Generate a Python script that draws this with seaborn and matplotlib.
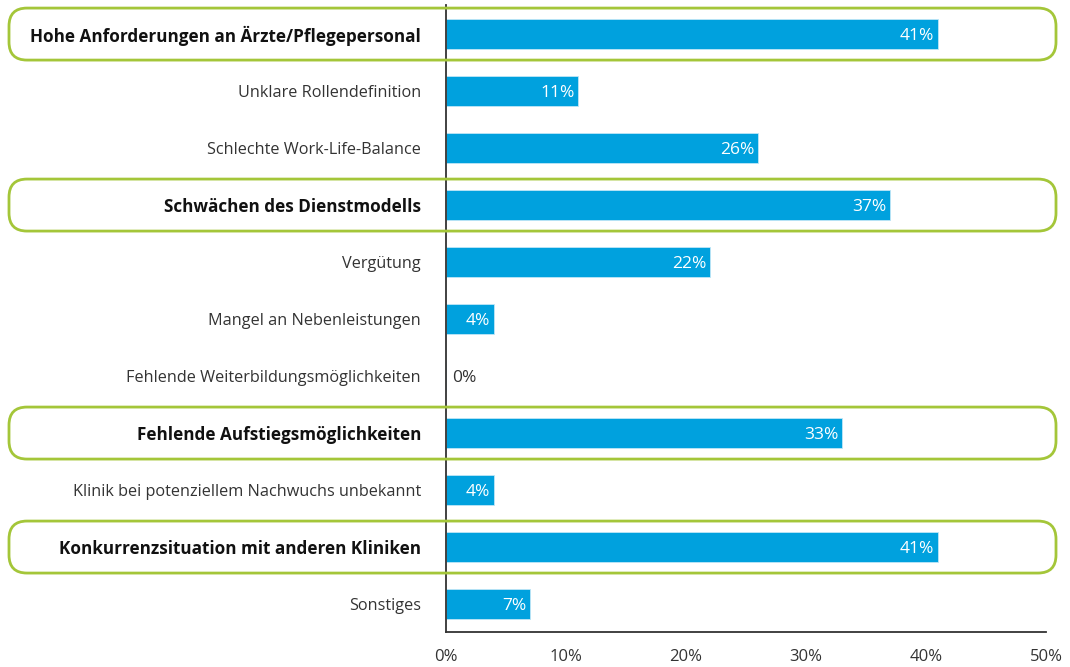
import matplotlib
matplotlib.use("Agg")
import matplotlib.pyplot as plt
import matplotlib.ticker as mticker
from matplotlib.patches import FancyBboxPatch
from matplotlib.transforms import IdentityTransform
import seaborn as sns
import pandas as pd

CATEGORIES = [
    "Hohe Anforderungen an Ärzte/Pflegepersonal",
    "Unklare Rollendefinition",
    "Schlechte Work-Life-Balance",
    "Schwächen des Dienstmodells",
    "Vergütung",
    "Mangel an Nebenleistungen",
    "Fehlende Weiterbildungsmöglichkeiten",
    "Fehlende Aufstiegsmöglichkeiten",
    "Klinik bei potenziellem Nachwuchs unbekannt",
    "Konkurrenzsituation mit anderen Kliniken",
    "Sonstiges",
]
VALUES = [41, 11, 26, 37, 22, 4, 0, 33, 4, 41, 7]
HIGHLIGHT = [True, False, False, True, False, False, False, True, False, True, False]
X_TICKS = [0, 10, 20, 30, 40, 50]

BAR_COLOR = "#00a1de"
BOX_COLOR = "#a4c639"
FONT = ["Open Sans", "DejaVu Sans"]

sns.set_style("white")
plt.rcParams["font.family"] = FONT

df = pd.DataFrame({"label": CATEGORIES, "value": VALUES})

fig = plt.figure(figsize=(10.7, 6.67), dpi=100)
ax = fig.add_axes([0.4168, 0.0525, 0.5608, 0.94])

sns.barplot(data=df, x="value", y="label", color=BAR_COLOR, saturation=1,
            width=0.53, ax=ax, edgecolor="#bfe6f7", linewidth=0.6)

ax.set_xlim(0, 50)
ax.set_ylim(10.49, -0.51)
ax.set_xticks(X_TICKS)
ax.xaxis.set_major_formatter(mticker.FuncFormatter(lambda v, _: f"{v:.0f}%"))
ax.set_xlabel("")
ax.set_ylabel("")
ax.tick_params(axis="x", length=0, pad=12, labelsize=12, labelcolor="#333333")
ax.tick_params(axis="y", length=0, pad=18, labelsize=11.7)

for spine in ["top", "right"]:
    ax.spines[spine].set_visible(False)
ax.spines["left"].set_color("#333333")
ax.spines["bottom"].set_color("#333333")
ax.spines["left"].set_linewidth(1.3)
ax.spines["bottom"].set_linewidth(1.3)

for tick, hl in zip(ax.get_yticklabels(), HIGHLIGHT):
    if hl:
        tick.set_fontweight("bold")
        tick.set_fontsize(12.3)
        tick.set_color("#111111")
    else:
        tick.set_color("#333333")

# value labels
for i, v in enumerate(VALUES):
    if v > 2:
        ax.text(v - 0.3, i, f"{v}%", ha="right", va="center_baseline",
                color="white", fontsize=12.5)
    else:
        ax.text(v + 0.5, i, f"{v}%", ha="left", va="center_baseline",
                color="#333333", fontsize=12.5)

# rounded highlight boxes
fig.canvas.draw()
for i, hl in enumerate(HIGHLIGHT):
    if not hl:
        continue
    _, yc = ax.transData.transform((0, i))
    h = 46
    box = FancyBboxPatch((12, yc - h / 2), 1041, h,
                         boxstyle="round,pad=3,rounding_size=18",
                         transform=IdentityTransform(), fill=False,
                         edgecolor=BOX_COLOR, linewidth=2.0, clip_on=False)
    fig.add_artist(box)

fig.savefig("out.png", dpi=100)
plt.close(fig)
